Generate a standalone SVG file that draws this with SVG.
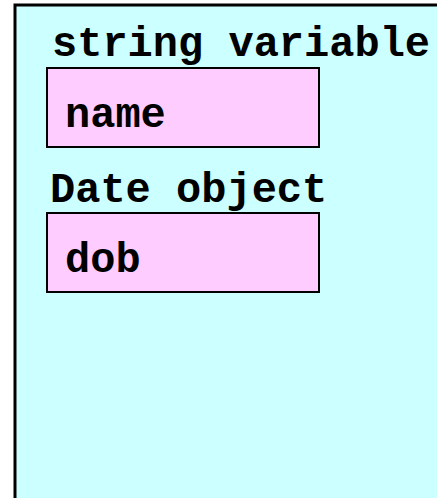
<svg xmlns="http://www.w3.org/2000/svg" width="437" height="498" viewBox="0 0 437 498">
<style>
.lbl{font-family:"Liberation Mono","Courier New",monospace;font-weight:bold;font-size:42px;fill:#000}
.box{fill:#ffccff;stroke:#000;stroke-width:2}
</style>
<rect width="437" height="498" fill="#ffffff"/>
<g id="frame">
<rect x="15" y="5" width="440" height="510" fill="#ccffff" stroke="#000" stroke-width="3"/>
</g>
<g id="name-var">
<text class="lbl" x="52" y="56">string variable</text>
<rect class="box" x="47" y="68" width="272" height="79"/>
<text class="lbl" x="65" y="127">name</text>
</g>
<g id="dob-obj">
<text class="lbl" x="50" y="202">Date object</text>
<rect class="box" x="47" y="213" width="272" height="79"/>
<text class="lbl" x="65" y="272">dob</text>
</g>
<g id="connectors"/>
</svg>
